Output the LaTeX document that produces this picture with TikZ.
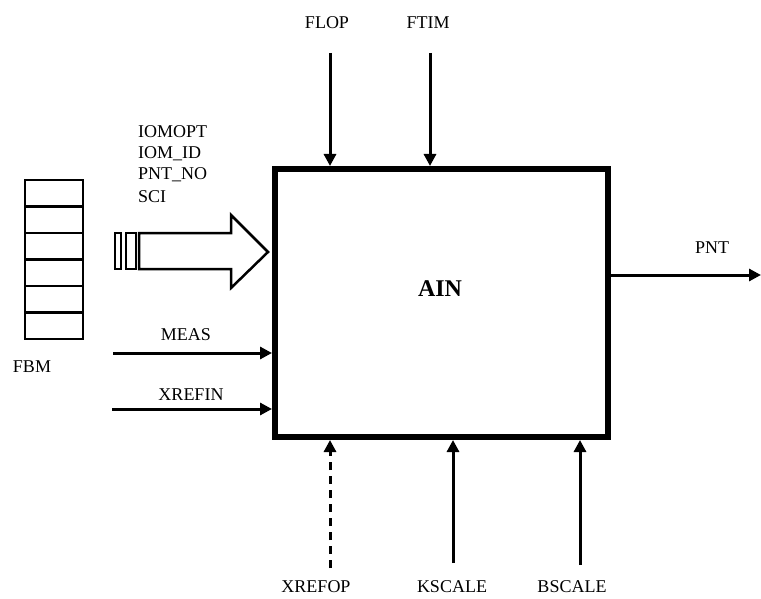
\documentclass[tikz,border=0pt]{standalone}
\usepackage{fontspec}
\setmainfont{Liberation Serif}
\usetikzlibrary{arrows.meta}

\newcommand{\lblfont}{\fontsize{18}{20}\selectfont}
\newcommand{\ainfont}{\fontsize{24}{26}\selectfont\bfseries}

\begin{document}
\begin{tikzpicture}[x=1pt, y=-1pt,
    arr/.style={line width=3pt, -{Triangle[length=12pt,width=12pt]}},
    lbl/.style={font=\lblfont, inner sep=0pt},
    cell/.style={draw, line width=2.5pt, minimum width=58pt, minimum height=26.5pt, inner sep=0pt}]
  \useasboundingbox (0,0) rectangle (761,599);
  % AIN block
  \node[draw, line width=6pt, minimum width=333pt, minimum height=268pt, inner sep=0pt] (ain) at (441.5,303) {};
  \node[font=\ainfont, inner sep=0pt] (ainlbl) at (440,289) {AIN};
  % FBM
  \foreach \i in {0,...,5}
    \node[cell] (fbm\i) at (54,193.25+\i*26.5) {};
  \node[lbl] (fbmlbl) at (32,367) {FBM};
  % parameters arrow
  \draw[line width=2.5pt] (115,233) rectangle (121,269);
  \draw[line width=2.5pt] (126,233) rectangle (136,269);
  \draw[line width=2.5pt] (139,233) -- (231,233) -- (231,215) -- (268,252) -- (231,288) -- (231,269) -- (139,269) -- cycle;
  \node[lbl, anchor=west] (iomopt) at (138,132) {IOMOPT};
  \node[lbl, anchor=west] (iomid) at (138,154) {IOM\_ID};
  \node[lbl, anchor=west] (pntno) at (138,175) {PNT\_NO};
  \node[lbl, anchor=west] (sci) at (138,197) {SCI};
  % top inputs
  \node[lbl] (flop) at (327,23) {FLOP};
  \node[lbl] (ftim) at (428,23) {FTIM};
  \coordinate (flopS) at (330,53);
  \coordinate (ftimS) at (430,53);
  \draw[arr] (flopS) -- (flopS |- ain.north);
  \draw[arr] (ftimS) -- (ftimS |- ain.north);
  % left inputs
  \node[lbl] (meas) at (186,335) {MEAS};
  \node[lbl] (xrefin) at (191,395) {XREFIN};
  \coordinate (measS) at (113,353);
  \coordinate (xrefinS) at (112,409);
  \draw[arr] (measS) -- (measS -| ain.west);
  \draw[arr] (xrefinS) -- (xrefinS -| ain.west);
  % bottom inputs
  \node[lbl] (xrefop) at (316,587) {XREFOP};
  \node[lbl] (kscale) at (452,587) {KSCALE};
  \node[lbl] (bscale) at (572,587) {BSCALE};
  \coordinate (xrefopS) at (330,568);
  \coordinate (kscaleS) at (453,563);
  \coordinate (bscaleS) at (580,565);
  \draw[arr, dash pattern=on 8pt off 6pt] (xrefopS) -- (xrefopS |- ain.south);
  \draw[arr] (kscaleS) -- (kscaleS |- ain.south);
  \draw[arr] (bscaleS) -- (bscaleS |- ain.south);
  % output
  \node[lbl] (pnt) at (712,248) {PNT};
  \coordinate (pntE) at (761,275);
  \draw[arr] (ain.east |- pntE) -- (pntE);
\end{tikzpicture}
\end{document}
